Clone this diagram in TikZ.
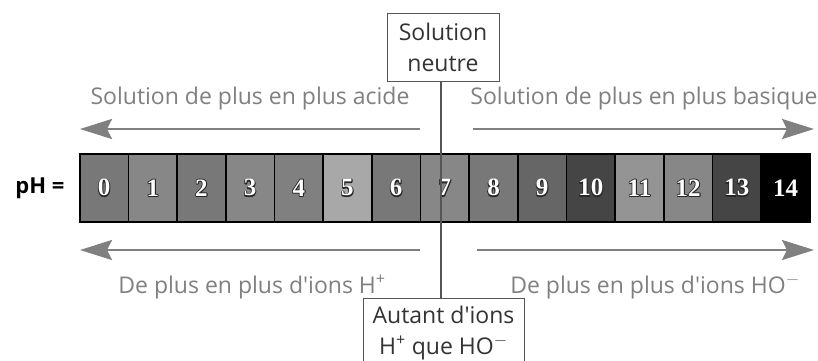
\documentclass[tikz,border=0pt]{standalone}
\usepackage{fontspec}
\usetikzlibrary{arrows.meta}
\newfontfamily\lbl{Open Sans}
\newfontfamily\digitfont{Liberation Serif}
\definecolor{labelgray}{HTML}{808080}
\definecolor{boxtext}{HTML}{333333}
\definecolor{guide}{HTML}{555555}
\definecolor{rim}{HTML}{262626}
% white digits with a dark rim: a stroked dark copy underneath, a plain white copy on top
\newcommand{\outlined}[1]{%
  \rlap{\textcolor{rim}{%
    \special{pdf:literal direct q 2 Tr 1.8 w 1 j}%
    #1%
    \special{pdf:literal direct Q 0 Tr}}}%
  \textcolor{white}{#1}}
\begin{document}
\begin{tikzpicture}[x=1pt,y=-1pt,
  cell/.style={draw=black,line width=1.6pt,minimum width=48.67pt,minimum height=68pt,inner sep=0pt},
  digit/.style={font=\digitfont\bfseries\fontsize{25}{25}\selectfont},
  sidelabel/.style={text=labelgray,font=\lbl\fontsize{23}{26}\selectfont,inner sep=0pt},
  trend/.style={draw=labelgray,line width=2.6pt,-{Stealth[length=32pt,width=20pt,inset=5pt]}},
  callout/.style={draw=guide,line width=0.8pt,fill=white,text=boxtext,align=center,
    font=\lbl\fontsize{23}{31}\selectfont,inner sep=1pt}]
\useasboundingbox (0,0) rectangle (818,360);
\fill[white] (0,0) rectangle (818,360);

% pH scale cells
\foreach \v/\g in {0/47,1/53,2/47,3/53,4/50,5/66,6/47,7/53,8/47,9/40,10/27,11/58,12/53,13/27,14/0}{
  \node[cell,fill=black!\fpeval{100-\g}!white,anchor=north west] (c\v) at ({79+\v*48.67},153) {};
}
\foreach \v in {0,...,13}{
  \node[digit] at (c\v) {\outlined{\v}};
}
\node[digit,text=white] at (c14) {14};

\node[font=\lbl\bfseries\fontsize{22}{22}\selectfont,anchor=east] (ph) at (68,188) {pH =};

% neutral point callouts and guide line
\node[callout,minimum width=112pt,minimum height=68pt] (neutral) at (443,47) {Solution\\neutre};
\node[callout,minimum width=161pt,minimum height=70pt,anchor=north] (equal) at (443.5,298) {Autant d'ions\\H\textsuperscript{+} que HO\textsuperscript{$-$}};
\draw[guide,line width=2.2pt] (neutral.south -| 441,0) -- (equal.north -| 441,0);

% trends above the scale
\coordinate (ta1) at (420,129);
\coordinate (ta2) at (80,129);
\coordinate (tb1) at (473,129);
\coordinate (tb2) at (814,129);
\draw[trend] (ta1) -- (ta2);
\draw[trend] (tb1) -- (tb2);
\node[sidelabel] (acid) at (250,99) {Solution de plus en plus acide};
\node[sidelabel] (basic) at (644,99) {Solution de plus en plus basique};

% trends below the scale
\coordinate (ba1) at (420,250);
\coordinate (ba2) at (80,250);
\coordinate (bb1) at (477,250);
\coordinate (bb2) at (814,250);
\draw[trend] (ba1) -- (ba2);
\draw[trend] (bb1) -- (bb2);
\node[sidelabel] (hplus) at (252,287) {De plus en plus d'ions H\textsuperscript{+}};
\node[sidelabel] (homin) at (655,287) {De plus en plus d'ions HO\textsuperscript{$-$}};
\end{tikzpicture}
\end{document}
